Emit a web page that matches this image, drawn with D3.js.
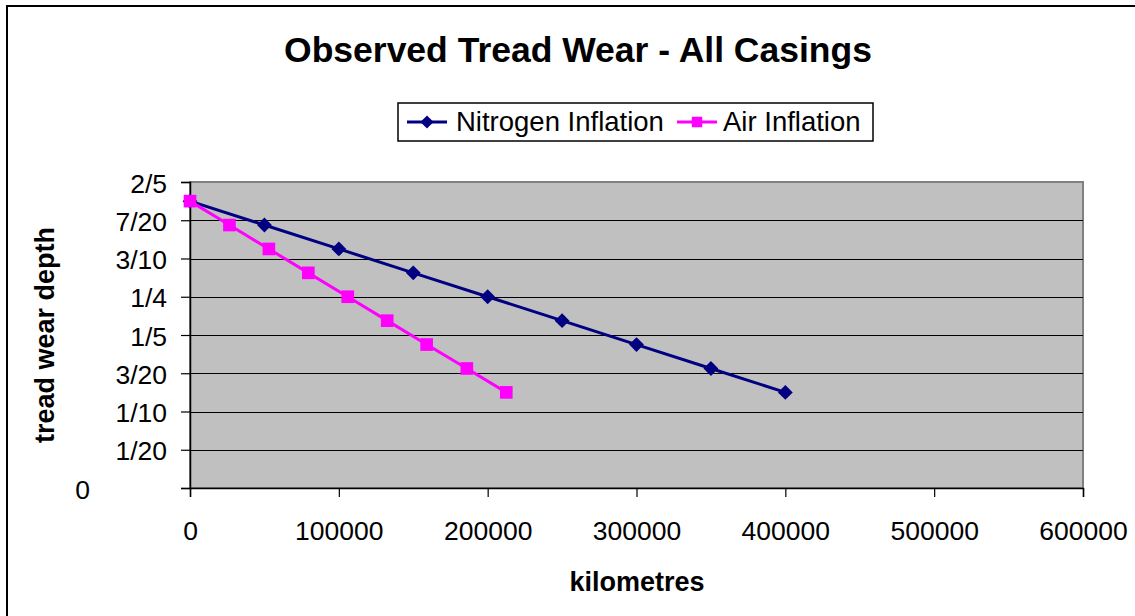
<!DOCTYPE html>
<html>
<head>
<meta charset="utf-8">
<script src="https://cdn.jsdelivr.net/npm/d3@7"></script>
<style>
  body { margin: 0; background: #fff; }
  text { font-family: "Liberation Sans", Arial, sans-serif; }
</style>
</head>
<body>
<div id="chart"></div>
<script>
// tread depth (fractions of an inch, 12/32 down to 4/32)
const nitrogenKm = [0, 50000, 100000, 150000, 200000, 250000, 300000, 350000, 400000];
const nitrogenDepth = [0.375, 0.34375, 0.3125, 0.28125, 0.25, 0.21875, 0.1875, 0.15625, 0.125];
const airKm = [0, 26500, 53000, 79500, 106000, 132500, 159000, 186000, 212500];
const airDepth = [0.375, 0.34375, 0.3125, 0.28125, 0.25, 0.21875, 0.1875, 0.15625, 0.125];

const yTicks = [0, 0.05, 0.1, 0.15, 0.2, 0.25, 0.3, 0.35, 0.4];
const yTickLabels = ["0", "1/20", "1/10", "3/20", "1/5", "1/4", "3/10", "7/20", "2/5"];
const xTicks = [0, 100000, 200000, 300000, 400000, 500000, 600000];

const W = 1135, H = 616;
const plot = {left: 190, top: 182, right: 1083, bottom: 488};

const svg = d3.select("#chart").append("svg")
              .attr("width", W)
              .attr("height", H);

// outer chart frame (right/bottom edges run off the picture)
svg.append("rect")
   .attr("x", 7).attr("y", 6)
   .attr("width", 1300).attr("height", 800)
   .attr("fill", "none")
   .attr("stroke", "#000")
   .attr("stroke-width", 2);

const x = d3.scaleLinear().domain([0, 600000]).range([plot.left, plot.right]);
const y = d3.scaleLinear().domain([0, 0.4]).range([plot.bottom, plot.top]);

// plot background
svg.append("rect")
   .attr("x", plot.left).attr("y", plot.top)
   .attr("width", plot.right - plot.left)
   .attr("height", plot.bottom - plot.top)
   .attr("fill", "#c0c0c0")
   .attr("stroke", "#808080")
   .attr("stroke-width", 2);

// gridlines
svg.append("g")
   .selectAll("line")
   .data(yTicks.filter(d => d > 0 && d < 0.4))
   .join("line")
   .attr("x1", plot.left).attr("x2", plot.right)
   .attr("y1", d => Math.round(y(d)) + 0.5)
   .attr("y2", d => Math.round(y(d)) + 0.5)
   .attr("stroke", "#000")
   .attr("stroke-width", 1.2);

// y axis
const yAxis = svg.append("g")
   .attr("transform", `translate(${plot.left},0)`)
   .call(d3.axisLeft(y)
           .tickValues(yTicks)
           .tickSize(9)
           .tickPadding(14)
           .tickFormat((d, i) => yTickLabels[i]));
yAxis.select(".domain").attr("stroke", "#000").attr("stroke-width", 1.5);
yAxis.selectAll(".tick line").attr("stroke", "#000").attr("stroke-width", 1.2);
yAxis.selectAll(".tick text")
     .attr("font-size", 26.5)
     .attr("fill", "#000")
     .attr("dy", "0.38em")
     .attr("font-family", "Liberation Sans, Arial, sans-serif");
// the zero label sits far out to the left, as in the original spreadsheet layout
yAxis.selectAll(".tick text").filter(d => d === 0).attr("x", -100);

// x axis
const xAxis = svg.append("g")
   .attr("transform", `translate(0,${plot.bottom})`)
   .call(d3.axisBottom(x)
           .tickValues(xTicks)
           .tickSize(9)
           .tickPadding(24)
           .tickFormat(d3.format("d")));
xAxis.select(".domain").attr("stroke", "#000").attr("stroke-width", 1.5);
xAxis.selectAll(".tick line").attr("stroke", "#000").attr("stroke-width", 1.2);
xAxis.selectAll(".tick text")
     .attr("font-size", 26.5)
     .attr("fill", "#000")
     .attr("font-family", "Liberation Sans, Arial, sans-serif");

const line = d3.line().x(d => x(d[0])).y(d => y(d[1]));
const diamond = d3.symbol().type(d3.symbolDiamond2).size(140);
const square = d3.symbol().type(d3.symbolSquare).size(160);

const series = [
  {name: "Nitrogen Inflation", color: "#000080", km: nitrogenKm, depth: nitrogenDepth, shape: diamond},
  {name: "Air Inflation", color: "#ff00ff", km: airKm, depth: airDepth, shape: square}
];

series.forEach(s => {
  const pts = s.km.map((k, i) => [k, s.depth[i]]);
  svg.append("path")
     .datum(pts)
     .attr("d", line)
     .attr("fill", "none")
     .attr("stroke", s.color)
     .attr("stroke-width", 3);
  svg.append("g")
     .selectAll("path")
     .data(pts)
     .join("path")
     .attr("d", s.shape)
     .attr("transform", d => `translate(${x(d[0])},${y(d[1])})`)
     .attr("fill", s.color);
});

// title
svg.append("text")
   .attr("x", 578).attr("y", 62)
   .attr("text-anchor", "middle")
   .attr("font-size", 35.5)
   .attr("font-weight", "bold")
   .text("Observed Tread Wear - All Casings");

// axis titles
svg.append("text")
   .attr("x", 637).attr("y", 591)
   .attr("text-anchor", "middle")
   .attr("font-size", 27)
   .attr("font-weight", "bold")
   .text("kilometres");

svg.append("text")
   .attr("transform", "translate(54,335) rotate(-90)")
   .attr("text-anchor", "middle")
   .attr("font-size", 27)
   .attr("font-weight", "bold")
   .text("tread wear depth");

// legend
const legend = svg.append("g");
legend.append("rect")
      .attr("x", 398).attr("y", 103)
      .attr("width", 475).attr("height", 38)
      .attr("fill", "#fff")
      .attr("stroke", "#000")
      .attr("stroke-width", 1.5);

const legendPos = [{lx: 407, tx: 456}, {lx: 677, tx: 723}];
series.forEach((s, i) => {
  const p = legendPos[i];
  legend.append("line")
        .attr("x1", p.lx).attr("x2", p.lx + 40)
        .attr("y1", 122).attr("y2", 122)
        .attr("stroke", s.color)
        .attr("stroke-width", 3);
  legend.append("path")
        .attr("d", s.shape.size(110)())
        .attr("transform", `translate(${p.lx + 20},122)`)
        .attr("fill", s.color);
  legend.append("text")
        .attr("x", p.tx).attr("y", 131)
        .attr("font-size", 27.5)
        .text(s.name);
});
</script>
</body>
</html>
